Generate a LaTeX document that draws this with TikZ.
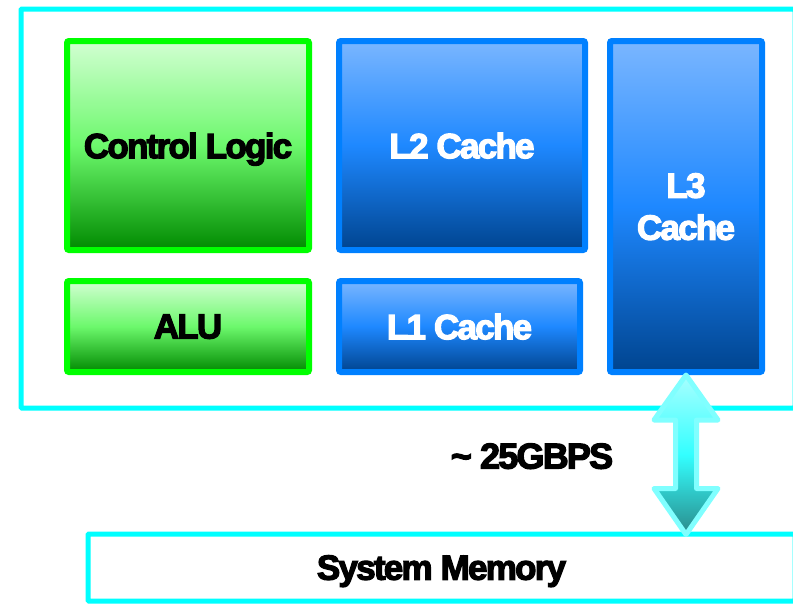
\documentclass[tikz,border=0pt]{standalone}
\usepackage{fontspec}
\usepackage{tikz}
\setmainfont{Liberation Sans}
\newfontfamily\heavyfont{Liberation Sans}[BoldFeatures={FakeBold=3.5},LetterSpace=-5]
\usetikzlibrary{calc}
\definecolor{chipcyan}{HTML}{00FFFF}
\definecolor{logicgreen}{HTML}{00FF00}
\definecolor{greentop}{HTML}{D2FFD2}
\definecolor{greenmid}{HTML}{6CF86C}
\definecolor{greenbot}{HTML}{008A00}
\definecolor{cacheblue}{HTML}{0080FF}
\definecolor{bluetop}{HTML}{7AB6FF}
\definecolor{bluemid}{HTML}{1E88FF}
\definecolor{bluebot}{HTML}{00448F}
\definecolor{arrowedge}{HTML}{80FFFF}
\definecolor{arrowtop}{HTML}{A8FFFF}
\definecolor{arrowmid}{HTML}{33FFFF}
\definecolor{arrowbot}{HTML}{2A8A8A}

\begin{document}
\begin{tikzpicture}[x=1pt,y=-1pt,
  blk/.style={rectangle,line width=6pt,rounded corners=2pt,inner sep=0pt,align=center,text depth=0pt,
    font=\heavyfont\bfseries\fontsize{35}{42}\selectfont},
  logicblk/.style={blk,draw=logicgreen,top color=greentop,bottom color=greenbot,middle color=greenmid,text=black},
  cacheblk/.style={blk,draw=cacheblue,top color=bluetop,bottom color=bluebot,middle color=bluemid,text=white},
  frame/.style={rectangle,draw=chipcyan,line width=5pt,rounded corners=1pt,inner sep=0pt,text depth=0pt,
    font=\heavyfont\bfseries\fontsize{35}{40}\selectfont},
  busarrow/.style={draw=arrowedge,line width=5pt,line join=round,top color=arrowtop,bottom color=arrowbot,middle color=arrowmid}]
  \useasboundingbox (0,0) rectangle (793,603);

  % processor die
  \node[frame,minimum width=774pt,minimum height=399pt] (chip) at (408,208.5) {};
  \node[logicblk,minimum width=242pt,minimum height=209pt] (ctrl) at (188,145.5) {Control Logic};
  \node[logicblk,minimum width=242pt,minimum height=91pt] (alu) at (188,326.5) {ALU};
  \node[cacheblk,minimum width=246pt,minimum height=209pt] (l2) at (462,145.5) {L2 Cache};
  \node[cacheblk,minimum width=241pt,minimum height=91pt] (l1) at (459.5,326.5) {L1 Cache};
  \node[cacheblk,minimum width=152pt,minimum height=331pt] (l3) at (686,206.5) {L3\\Cache};

  % memory and bus
  \node[frame,minimum width=707pt,minimum height=67pt] (mem) at (441.5,567.5) {System Memory};
  \node[text depth=0pt,font=\heavyfont\bfseries\fontsize{36}{40}\selectfont] (rate) at (532,456) {\textasciitilde{} 25GBPS};

  \coordinate (at) at (l3.south);
  \coordinate (ab) at ($(l3.south |- mem.north)+(0,3)$);
  \draw[busarrow] (at) -- ($(at)+(32,45)$) -- ($(at)+(10.5,45)$) -- ($(ab)+(10.5,-46)$)
    -- ($(ab)+(32,-46)$) -- (ab) -- ($(ab)+(-32,-46)$) -- ($(ab)+(-10.5,-46)$)
    -- ($(at)+(-10.5,45)$) -- ($(at)+(-32,45)$) -- cycle;
\end{tikzpicture}
\end{document}
